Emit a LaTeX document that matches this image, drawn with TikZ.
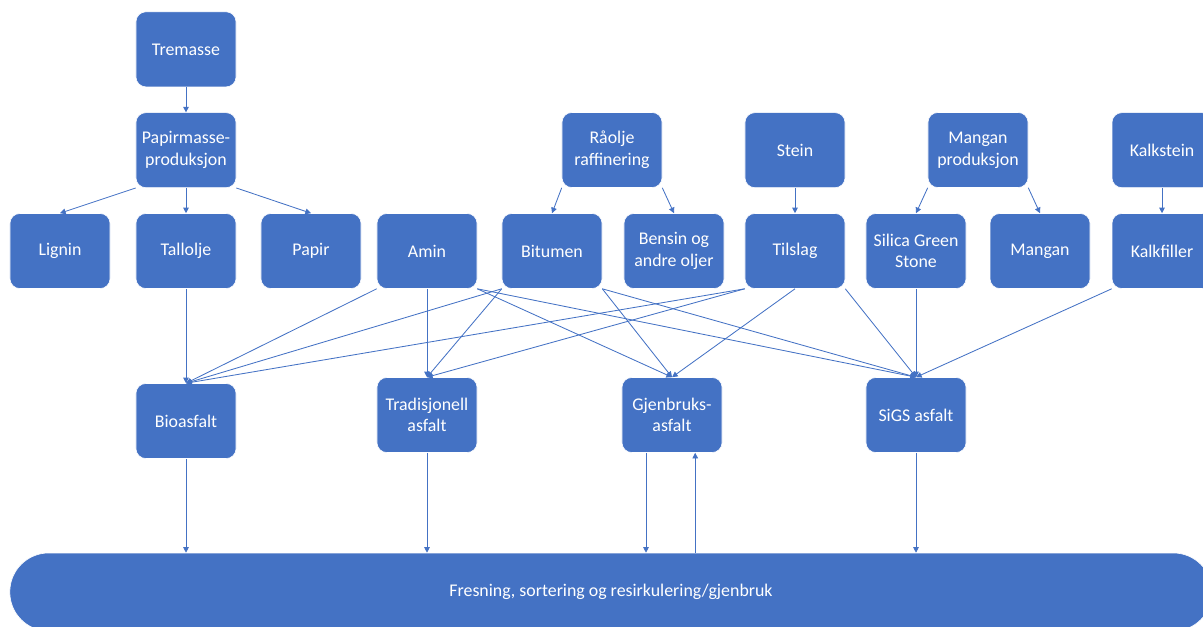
\documentclass[tikz,border=0pt]{standalone}
\usepackage{fontspec}
\setmainfont{Carlito}
\usepackage{tikz}
\usetikzlibrary{positioning,arrows.meta}
\definecolor{boxblue}{HTML}{4472C4}

\begin{document}
\begin{tikzpicture}[
    x = 0.025cm, y = -0.025cm,
    > = {Triangle[length=4pt,width=4pt]},
    node distance = 2.52cm,
    box/.style={rectangle, rounded corners=7pt, fill=boxblue, draw=white,
        text=white, minimum width=2.5cm, minimum height=1.875cm, align=center,
        font=\fontsize{12.7}{15.4}\selectfont},
    link/.style={->, draw=boxblue, line width=0.6pt}
]
    \useasboundingbox (0,0) rectangle (1203,626);
    \clip (0,0) rectangle (1203,626);

    % raw materials and products
    \node[box] (lignin) at (60,251) {Lignin};
    \node[box] (tallolje) at (186,251) {Tallolje};
    \node[box] (papir) at (311,251) {Papir};
    \node[box] (amin) at (427,251) {Amin};
    \node[box] (bitumen) at (552,251) {Bitumen};
    \node[box] (bensin) at (674,251) {Bensin og\\andre oljer};
    \node[box] (tilslag) at (795,251) {Tilslag};
    \node[box] (silica) at (916,251) {Silica Green\\Stone};
    \node[box] (mangan) at (1040,251) {Mangan};
    \node[box] (kalkfiller) at (1162,251) {Kalkfiller};

    \node[box, above of=tallolje] (papirmasse) {Papirmasse-\\produksjon};
    \node[box, above of=papirmasse] (tremasse) {Tremasse};
    \node[box] (raolje) at (612,150) {Råolje\\raffinering};
    \node[box, above of=tilslag] (stein) {Stein};
    \node[box] (manganprod) at (978,150) {Mangan\\produksjon};
    \node[box, above of=kalkfiller] (kalkstein) {Kalkstein};

    % asphalt types
    \node[box] (bio) at (186,421) {Bioasfalt};
    \node[box] (trad) at (427,415) {Tradisjonell\\asfalt};
    \node[box] (gjen) at (672,415) {Gjenbruks-\\asfalt};
    \node[box] (sigs) at (916,415) {SiGS asfalt};

    \node[box, rounded corners=0.97cm, minimum width=30.05cm, minimum height=1.95cm]
        (base) at (611,592) {Fresning, sortering og resirkulering/gjenbruk};

    % top part
    \draw[link] (tremasse) -- (papirmasse);
    \draw[link] (papirmasse.south west) -- (lignin.north);
    \draw[link] (papirmasse) -- (tallolje);
    \draw[link] (papirmasse.south east) -- (papir.north);
    \draw[link] (raolje.south west) -- (bitumen.north);
    \draw[link] (raolje.south east) -- (bensin.north);
    \draw[link] (stein) -- (tilslag);
    \draw[link] (manganprod.south west) -- (silica.north);
    \draw[link] (manganprod.south east) -- (mangan.north);
    \draw[link] (kalkstein) -- (kalkfiller);

    % into the asphalt types
    \draw[link] (tallolje) -- (bio);
    \foreach \src in {amin.south west, bitumen.south west, tilslag.south west}
        \draw[link] (\src) -- (bio.north);
    \foreach \src in {amin.south, bitumen.south west, tilslag.south west}
        \draw[link] (\src) -- (trad.north);
    \foreach \src in {amin.south east, bitumen.south east, tilslag.south}
        \draw[link] (\src) -- (gjen.north);
    \foreach \src in {amin.south east, bitumen.south east, tilslag.south east, silica.south, kalkfiller.south west}
        \draw[link] (\src) -- (sigs.north);

    % down to milling and recycling
    \draw[link] (bio.south) -- (bio.south |- base.north);
    \draw[link] (trad.south) -- (trad.south |- base.north);
    \draw[link] ([xshift=-0.65cm]gjen.south) -- ([xshift=-0.65cm]gjen.south |- base.north);
    \draw[link] ([xshift=0.58cm]gjen.south |- base.north) -- ([xshift=0.58cm]gjen.south);
    \draw[link] (sigs.south) -- (sigs.south |- base.north);
\end{tikzpicture}
\end{document}
